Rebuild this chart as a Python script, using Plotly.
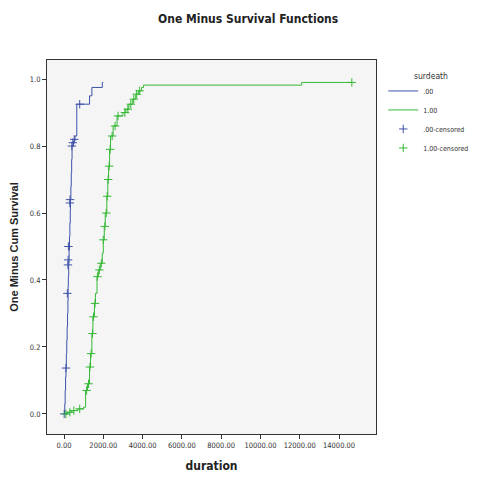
import plotly.graph_objects as go

# Group .00 (blue) step curve
blue_t = [0, 40, 60, 80, 100, 120, 140, 160, 180, 200, 210, 220, 240, 260, 280, 300,
          320, 330, 350, 370, 390, 410, 480, 560, 650, 1300, 1420, 1950, 2000]
blue_y = [0.0, 0.03, 0.07, 0.11, 0.14, 0.18, 0.22, 0.26, 0.30, 0.34, 0.38, 0.41, 0.45,
          0.49, 0.53, 0.57, 0.61, 0.64, 0.68, 0.72, 0.76, 0.80, 0.815, 0.83, 0.925,
          0.95, 0.975, 0.99, 0.99]
blue_cens_t = [10, 100, 170, 200, 210, 225, 300, 310, 400, 450, 520, 800]
blue_cens_y = [0.0, 0.137, 0.36, 0.445, 0.46, 0.50, 0.63, 0.64, 0.80, 0.81, 0.82, 0.925]

# Group 1.00 (green) step curve
green_t = [0, 150, 400, 700, 1000, 1100, 1200, 1300, 1350, 1420, 1470, 1550, 1600,
           1680, 1750, 1850, 1950, 2000, 2050, 2100, 2180, 2230, 2270, 2320, 2370,
           2500, 2700, 3000, 3150, 3300, 3500, 3650, 3800, 3950, 4050, 12100, 14650]
green_y = [0.0, 0.005, 0.01, 0.015, 0.02, 0.07, 0.09, 0.14, 0.18, 0.24, 0.29, 0.33,
           0.36, 0.41, 0.43, 0.45, 0.48, 0.52, 0.56, 0.60, 0.65, 0.70, 0.74, 0.79,
           0.83, 0.86, 0.89, 0.90, 0.91, 0.925, 0.94, 0.955, 0.965, 0.975, 0.982,
           0.99, 0.99]
green_cens_t = [100, 300, 500, 800, 1150, 1250, 1320, 1380, 1450, 1500, 1580, 1700,
                1800, 1900, 2000, 2080, 2150, 2200, 2250, 2300, 2350, 2450, 2600, 2750,
                3100, 3250, 3400, 3550, 3700, 3850, 14650]
green_cens_y = [0.0, 0.005, 0.01, 0.015, 0.07, 0.09, 0.14, 0.18, 0.24, 0.29, 0.33,
                0.41, 0.43, 0.45, 0.52, 0.56, 0.60, 0.65, 0.70, 0.74, 0.79, 0.83,
                0.86, 0.89, 0.90, 0.91, 0.925, 0.94, 0.955, 0.965, 0.99]

x_ticks = [0, 2000, 4000, 6000, 8000, 10000, 12000, 14000]
x_labels = ["0.00", "2000.00", "4000.00", "6000.00", "8000.00", "10000.00", "12000.00", "14000.00"]
y_ticks = [0.0, 0.2, 0.4, 0.6, 0.8, 1.0]
y_labels = ["0.0", "0.2", "0.4", "0.6", "0.8", "1.0"]

BLUE = "#3e52a8"
GREEN = "#35b835"
FONT = "DejaVu Sans Condensed, sans-serif"

fig = go.Figure()
fig.add_trace(go.Scatter(x=blue_t, y=blue_y, mode="lines", line=dict(color=BLUE, width=1, shape="hv"), name=".00"))
fig.add_trace(go.Scatter(x=green_t, y=green_y, mode="lines", line=dict(color=GREEN, width=1, shape="hv"), name="1.00"))
fig.add_trace(go.Scatter(x=blue_cens_t, y=blue_cens_y, mode="markers",
                         marker=dict(symbol="cross-thin", size=6, line=dict(color=BLUE, width=1)),
                         name=".00-censored"))
fig.add_trace(go.Scatter(x=green_cens_t, y=green_cens_y, mode="markers",
                         marker=dict(symbol="cross-thin", size=6, line=dict(color=GREEN, width=1)),
                         name="1.00-censored"))

fig.update_layout(
    width=469, height=479,
    margin=dict(l=39, r=101, t=52, b=53, autoexpand=False),
    paper_bgcolor="white",
    plot_bgcolor="#f5f5f5",
    font=dict(family=FONT, size=8, color="#333"),
    title=dict(text="<b>One Minus Survival Functions</b>", x=0.512, xanchor="center", y=0.977, yanchor="middle",
               font=dict(family=FONT, size=12, color="#222")),
    legend=dict(x=1.022, xanchor="left", y=0.956, yanchor="top",
                font=dict(size=7, family=FONT), bgcolor="rgba(0,0,0,0)",
                itemwidth=30, tracegroupgap=0),
    showlegend=True,
    annotations=[dict(text="surdeath", xref="paper", yref="paper", x=1.167, y=0.957,
                      xanchor="center", yanchor="middle", showarrow=False,
                      font=dict(size=8.5, family=FONT, color="#333"))],
)
fig.update_xaxes(range=[-865, 15880], tickvals=x_ticks, ticktext=x_labels, showgrid=False, zeroline=False,
                 showline=True, linecolor="#333", linewidth=1, mirror=True, ticks="outside", ticklen=4,
                 tickcolor="#333", tickfont=dict(size=7.5, color="#333"), automargin=False,
                 title=dict(text="<b>duration</b>", font=dict(size=12, family=FONT, color="#222"), standoff=12))
fig.update_yaxes(range=[-0.06, 1.057], tickvals=y_ticks, ticktext=y_labels, showgrid=False, zeroline=False,
                 showline=True, linecolor="#333", linewidth=1, mirror=True, ticks="outside", ticklen=4,
                 tickcolor="#333", tickfont=dict(size=7.5, color="#333"), automargin=False,
                 title=dict(text="<b>One Minus Cum Survival</b>", font=dict(size=11, family="Liberation Sans, Arial, sans-serif", color="#222"), standoff=8))

fig.write_html("out.html")
